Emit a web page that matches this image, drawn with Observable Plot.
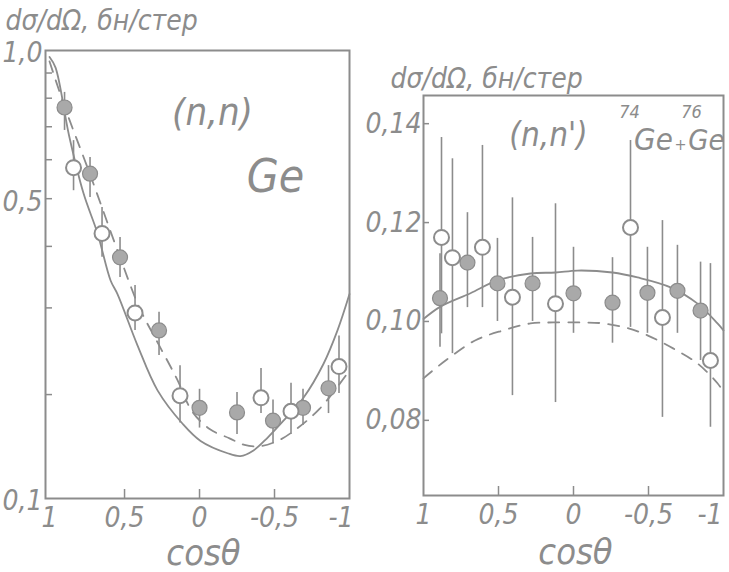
<!DOCTYPE html>
<html><head><meta charset="utf-8">
<script src="https://cdn.jsdelivr.net/npm/d3@7"></script>
<script src="https://cdn.jsdelivr.net/npm/@observablehq/plot@0.6"></script>
<style>
body{margin:0;background:#fff}
#wrap{position:relative;width:729px;height:572px;overflow:hidden}
#left,#right{position:absolute;top:0}
#left{left:0}
#right{left:365px}
</style>
</head><body>
<div id="wrap"><div id="left"></div><div id="right"></div></div>
<script>
// ---------- Left panel: (n,n) Ge, log scale ----------
const leftFilledCos = [0.90, 0.73, 0.53, 0.27, 0.0, -0.25, -0.49, -0.69, -0.86];
const leftFilledVal = [0.766, 0.562, 0.380, 0.270, 0.188, 0.184, 0.177, 0.188, 0.206];
const leftFilledLo  = [0.688, 0.503, 0.346, 0.240, 0.171, 0.166, 0.159, 0.173, 0.183];
const leftFilledHi  = [0.822, 0.606, 0.417, 0.294, 0.205, 0.202, 0.195, 0.205, 0.229];

const leftOpenCos = [0.84, 0.65, 0.43, 0.13, -0.41, -0.61, -0.93];
const leftOpenVal = [0.578, 0.425, 0.293, 0.199, 0.197, 0.185, 0.228];
const leftOpenLo  = [0.519, 0.380, 0.270, 0.175, 0.183, 0.166, 0.201];
const leftOpenHi  = [0.656, 0.480, 0.333, 0.229, 0.226, 0.211, 0.263];

const leftSolidCos = [1.0, 0.96, 0.87, 0.773, 0.68, 0.593, 0.547, 0.413, 0.28, 0.113, -0.007, -0.187, -0.273, -0.36, -0.453, -0.56, -0.693, -0.827, -0.92, -1.0];
const leftSolidVal = [0.97, 0.923, 0.672, 0.512, 0.425, 0.341, 0.320, 0.2515, 0.204, 0.1745, 0.161, 0.152, 0.150, 0.154, 0.1634, 0.177, 0.197, 0.231, 0.270, 0.32];

const leftDashCos = [1.0, 0.9, 0.73, 0.53, 0.4, 0.27, 0.15, 0.05, -0.07, -0.2, -0.3, -0.4, -0.52, -0.62, -0.8, -1.0];
const leftDashVal = [0.95, 0.77, 0.56, 0.38, 0.30, 0.252, 0.215, 0.185, 0.170, 0.163, 0.158, 0.157, 0.161, 0.168, 0.187, 0.224];

const leftYFloor = 0.123;               // broken axis floor, labelled 0,1
const leftYMinorTicks = [0.2, 0.3, 0.4, 0.5, 0.6, 0.7, 0.8, 0.9];
const leftYLabelTicks = [1.0, 0.5, leftYFloor];
const leftYLabelText  = ["1,0", "0,5", "0,1"];

// ---------- Right panel: (n,n') 74Ge+76Ge, linear ----------
const rightFilledCos = [0.89, 0.707, 0.507, 0.273, 0.0, -0.26, -0.493, -0.693, -0.847];
const rightFilledVal = [0.1047, 0.1119, 0.1077, 0.1077, 0.1057, 0.1038, 0.1058, 0.1062, 0.1022];
const rightFilledLo  = [0.0948, 0.1028, 0.1000, 0.1000, 0.0976, 0.0956, 0.0976, 0.0976, 0.0921];
const rightFilledHi  = [0.1137, 0.1220, 0.1168, 0.1170, 0.1150, 0.1129, 0.1150, 0.1154, 0.1120];

const rightOpenCos = [0.88, 0.807, 0.607, 0.407, 0.12, -0.38, -0.593, -0.913];
const rightOpenVal = [0.117, 0.1129, 0.115, 0.1049, 0.1036, 0.119, 0.1008, 0.0921];
const rightOpenLo  = [0.0975, 0.0935, 0.1028, 0.085, 0.0836, 0.0988, 0.0806, 0.0786];
const rightOpenHi  = [0.1372, 0.1329, 0.1356, 0.125, 0.1238, 0.1366, 0.1204, 0.1117];

const rightSolidCos = [1.0, 0.887, 0.687, 0.507, 0.287, 0.12, -0.027, -0.26, -0.427, -0.647, -0.827, -0.96, -1.0];
const rightSolidVal = [0.1005, 0.1030, 0.1057, 0.1083, 0.1097, 0.1099, 0.1103, 0.1099, 0.1089, 0.1069, 0.1036, 0.0996, 0.0982];

const rightDashCos = [1.0, 0.853, 0.653, 0.467, 0.287, 0.133, -0.047, -0.2, -0.367, -0.493, -0.667, -0.827, -0.96, -1.0];
const rightDashVal = [0.0885, 0.0921, 0.0962, 0.0982, 0.0996, 0.0998, 0.0998, 0.0996, 0.0986, 0.0972, 0.0945, 0.0915, 0.0875, 0.0857];

const rightYTicks = [0.08, 0.10, 0.12, 0.14];

// ---------- shared ----------
const xTickValues = [1, 0.5, 0, -0.5];
const xEndTick = [-1];
const xInnerTicks = [0.5, 0, -0.5];
const yTitle = "dσ/dΩ, бн/стер";
const xTitle = "cosθ";

const FONT = "'DejaVu Sans Condensed','DejaVu Sans',sans-serif";
const INK = "#8c8c8c";
const FILL = "#a9a9a9";
const fmtNum = d => d === 0 ? "0" : String(d).replace(".", ",");

const zip = (xs, ys, lo, hi) => xs.map((x, i) => ({x, y: ys[i], lo: lo ? lo[i] : null, hi: hi ? hi[i] : null}));

function dataMarks(filled, open, solid, dash) {
  return [
    Plot.line(solid, {x: "x", y: "y", curve: "catmull-rom", stroke: INK, strokeWidth: 1.8}),
    Plot.line(dash, {x: "x", y: "y", curve: "catmull-rom", stroke: INK, strokeWidth: 1.8, strokeDasharray: "11,9"}),
    Plot.ruleX(filled, {x: "x", y1: "lo", y2: "hi", stroke: INK, strokeWidth: 1.6}),
    Plot.ruleX(open, {x: "x", y1: "lo", y2: "hi", stroke: INK, strokeWidth: 1.6}),
    Plot.dot(filled, {x: "x", y: "y", r: 7.5, fill: FILL, stroke: INK, strokeWidth: 1.2}),
    Plot.dot(open, {x: "x", y: "y", r: 7.5, fill: "white", stroke: INK, strokeWidth: 2})
  ];
}
const txt = (s, o) => Plot.text([s], {text: d => d, fill: INK, fontFamily: FONT, fontStyle: "italic", lineAnchor: "middle", textAnchor: "middle", ...o});

function xAxes(pad, endDx) {
  return [
    Plot.axisX(xInnerTicks, {anchor: "bottom", tickSize: 9, dy: -9, fill: "none", label: null, stroke: INK, strokeWidth: 1.5}),
    Plot.axisX(xTickValues, {anchor: "bottom", tickSize: 0, tickPadding: pad, fontSize: 28, label: null, fill: INK, tickFormat: fmtNum}),
    Plot.axisX(xEndTick, {anchor: "bottom", tickSize: 0, tickPadding: pad, fontSize: 28, label: null, fill: INK, tickFormat: fmtNum, textAnchor: "end", dx: endDx})
  ];
}

// ---------- left plot ----------
const leftPlot = Plot.plot({
  width: 365, height: 572,
  marginLeft: 45, marginRight: 16, marginTop: 50, marginBottom: 74,
  style: {fontFamily: FONT, fontStyle: "italic", color: INK, background: "transparent", overflow: "visible"},
  x: {domain: [1.027, -1], axis: null},
  y: {type: "log", domain: [leftYFloor, 1], axis: null},
  marks: [
    Plot.frame({stroke: INK, strokeWidth: 2}),
    Plot.axisY(leftYMinorTicks, {anchor: "left", tickSize: 7, dx: 7, fill: "none", label: null, stroke: INK, strokeWidth: 1.5}),
    Plot.axisY(leftYLabelTicks, {anchor: "left", tickSize: 0, tickPadding: 3, fontSize: 28, label: null, fill: INK, dy: 3,
      tickFormat: d => leftYLabelText[leftYLabelTicks.indexOf(d)]}),
    ...xAxes(9, 4),
    ...dataMarks(zip(leftFilledCos, leftFilledVal, leftFilledLo, leftFilledHi),
                 zip(leftOpenCos, leftOpenVal, leftOpenLo, leftOpenHi),
                 zip(leftSolidCos, leftSolidVal), zip(leftDashCos, leftDashVal)),
    txt(yTitle, {frameAnchor: "top-left", dx: -40, dy: -29, textAnchor: "start", fontSize: 28}),
    txt(xTitle, {frameAnchor: "bottom", dx: 6, dy: 55, fontSize: 36}),
    txt("(n,n)", {frameAnchor: "top-left", dx: 167, dy: 62, fontSize: 38}),
    txt("Ge", {frameAnchor: "top-left", dx: 230, dy: 127, fontSize: 46})
  ]
});
document.getElementById("left").appendChild(leftPlot);

// ---------- right plot ----------
const rightPlot = Plot.plot({
  width: 364, height: 572,
  marginLeft: 58, marginRight: 6, marginTop: 95, marginBottom: 77,
  style: {fontFamily: FONT, fontStyle: "italic", color: INK, background: "transparent", overflow: "visible"},
  x: {domain: [1, -1], axis: null},
  y: {domain: [0.0648, 0.1457], axis: null},
  marks: [
    Plot.frame({stroke: INK, strokeWidth: 2}),
    Plot.axisY(rightYTicks, {anchor: "left", tickSize: 6, dx: 6, fill: "none", label: null, stroke: INK, strokeWidth: 1.5}),
    Plot.axisY(rightYTicks, {anchor: "left", tickSize: 0, tickPadding: 2, fontSize: 28, label: null, fill: INK,
      tickFormat: d => d.toFixed(2).replace(".", ",")}),
    ...xAxes(9, -1),
    ...dataMarks(zip(rightFilledCos, rightFilledVal, rightFilledLo, rightFilledHi),
                 zip(rightOpenCos, rightOpenVal, rightOpenLo, rightOpenHi),
                 zip(rightSolidCos, rightSolidVal), zip(rightDashCos, rightDashVal)),
    txt(yTitle, {frameAnchor: "top-left", dx: -33, dy: -16, textAnchor: "start", fontSize: 28}),
    txt(xTitle, {frameAnchor: "bottom", dx: 2, dy: 57, fontSize: 36}),
    txt("(n,n')", {frameAnchor: "top-left", dx: 125, dy: 40, fontSize: 33}),
    txt("74", {frameAnchor: "top-left", dx: 206, dy: 17, fontSize: 18}),
    txt("Ge", {frameAnchor: "top-left", dx: 230, dy: 45, fontSize: 31}),
    txt("+", {frameAnchor: "top-left", dx: 257, dy: 49, fontSize: 16}),
    txt("76", {frameAnchor: "top-left", dx: 268, dy: 17, fontSize: 18}),
    txt("Ge", {frameAnchor: "top-left", dx: 283, dy: 45, fontSize: 29})
  ]
});
document.getElementById("right").appendChild(rightPlot);
</script>
</body></html>
